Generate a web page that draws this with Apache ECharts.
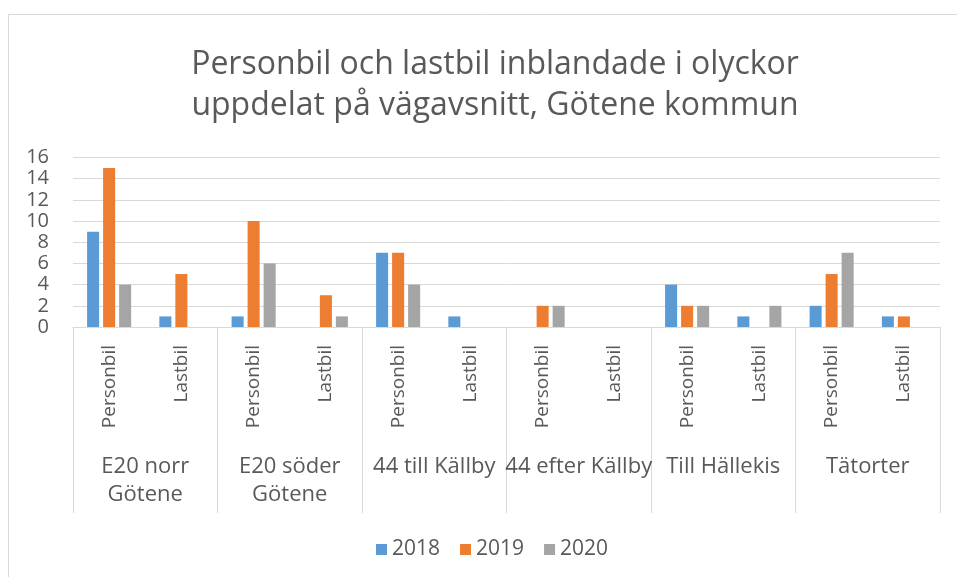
<!DOCTYPE html>
<html>
<head>
    <meta charset="utf-8">
    <title>Personbil och lastbil inblandade i olyckor</title>
    <script src="https://cdn.jsdelivr.net/npm/echarts@6.0.0/dist/echarts.min.js"></script>
    <style>
        html, body { margin: 0; padding: 0; background: #fff; }
        #chart { width: 957px; height: 577px; }
    </style>
</head>
<body>
    <div id="chart"></div>
    <script>
        // kategorier
        const groups = ['E20 norr\nGötene', 'E20 söder\nGötene', '44 till Källby', '44 efter Källby', 'Till Hällekis', 'Tätorter'];
        const vehicles = ['Personbil', 'Lastbil'];
        const years = ['2018', '2019', '2020'];

        // värden per underkategori (Personbil, Lastbil för varje vägavsnitt)
        const v2018 = [9, 1, 1, 0, 7, 1, 0, 0, 4, 1, 2, 1];
        const v2019 = [15, 5, 10, 3, 7, 0, 2, 0, 2, 0, 5, 1];
        const v2020 = [4, 0, 6, 1, 4, 0, 2, 0, 2, 2, 7, 0];

        const yTicks = { min: 0, max: 16, interval: 2 };
        const colors = ['#5B9BD5', '#ED7D31', '#A5A5A5'];

        const subCats = [];
        groups.forEach(() => vehicles.forEach(v => subCats.push(v)));

        const font = '"Open Sans", sans-serif';
        const textColor = '#595959';
        const lineColor = '#D9D9D9';

        const chart = echarts.init(document.getElementById('chart'));

        const series = [v2018, v2019, v2020].map((vals, i) => ({
            name: years[i],
            type: 'bar',
            xAxisIndex: 0,
            data: vals,
            barGap: '33%',
            barCategoryGap: '39%',
            itemStyle: { color: colors[i] }
        }));

        chart.setOption({
            animation: false,
            textStyle: { fontFamily: font },
            title: {
                text: 'Personbil och lastbil inblandade i olyckor\nuppdelat på vägavsnitt, Götene kommun',
                left: 490,
                top: 39,
                textAlign: 'center',
                textStyle: {
                    fontFamily: font,
                    fontSize: 32,
                    fontWeight: 'normal',
                    color: textColor,
                    lineHeight: 41
                }
            },
            graphic: [{
                type: 'rect',
                shape: { x: 8.5, y: 14.5, width: 1000, height: 1000 },
                style: { fill: 'none', stroke: lineColor, lineWidth: 1 },
                silent: true
            }],
            legend: {
                data: years,
                bottom: 12,
                left: 371,
                itemWidth: 11,
                itemHeight: 11,
                itemGap: 20,
                icon: 'rect',
                textStyle: { fontFamily: font, fontSize: 21, color: textColor }
            },
            grid: { left: 73, right: 17, top: 157.5, bottom: 250, containLabel: false },
            xAxis: [{
                type: 'category',
                data: subCats,
                position: 'bottom',
                axisLine: { show: true, lineStyle: { color: lineColor } },
                axisTick: { show: false },
                axisLabel: {
                    rotate: 90,
                    margin: 18,
                    fontFamily: font,
                    fontSize: 19,
                    color: textColor
                }
            }, {
                type: 'category',
                data: groups,
                position: 'bottom',
                axisLine: { show: false },
                axisTick: { show: true, length: 186, lineStyle: { color: lineColor } },
                axisLabel: {
                    margin: 126,
                    fontFamily: font,
                    fontSize: 22,
                    lineHeight: 28,
                    color: textColor,
                    verticalAlign: 'top',
                    interval: 0
                }
            }],
            yAxis: {
                type: 'value',
                min: yTicks.min,
                max: yTicks.max,
                interval: yTicks.interval,
                axisLine: { show: false },
                axisTick: { show: false },
                splitLine: { lineStyle: { color: lineColor, width: 1 } },
                axisLabel: { fontFamily: font, fontSize: 20, color: textColor, margin: 24 }
            },
            series: series
        });
    </script>
</body>
</html>
